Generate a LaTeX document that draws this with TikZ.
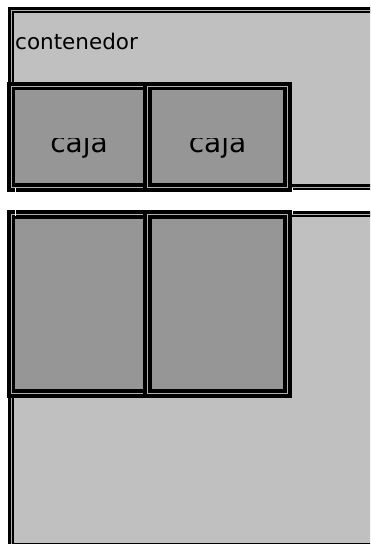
\documentclass[tikz,border=0pt]{standalone}
\usepackage{fontspec}
\setmainfont{DejaVu Sans}
\definecolor{contfill}{RGB}{192,192,192}
\definecolor{cajafill}{RGB}{150,150,150}
\definecolor{guide}{RGB}{175,175,175}

\begin{document}
\begin{tikzpicture}[x=1pt, y=-1pt,
    contline/.style={draw=black, line width=2.9pt, double=guide, double distance=0.7pt, fill=contfill},
    cajaline/.style={draw=black, line width=3.9pt, double=guide, double distance=0.7pt, fill=cajafill},
    marker/.style={white, line width=0.8pt},
    every node/.style={inner sep=0pt}]
  \useasboundingbox (0,0) rectangle (370,544);
  \clip (0,0) rectangle (370,544);
  % Upper panel: contenedor with two floated cajas
  \draw[contline] (11,10) rectangle (400,187);
  \draw[cajaline] (11,86) rectangle (147.5,187.5);
  \draw[cajaline] (147.5,86) rectangle (287.5,187.5);
  \node[anchor=base west, font=\fontsize{21.5}{21.5}\selectfont] (contlabel) at (15,49) {contenedor};
  \begin{scope}
    \clip (0,138.5) rectangle (370,200);
    \node[anchor=base, font=\fontsize{28}{28}\selectfont] (cajaA) at (79,152) {caja};
    \node[anchor=base, font=\fontsize{28}{28}\selectfont] (cajaB) at (217.5,152) {caja};
  \end{scope}
  % Lower panel: empty cajas, taller
  \draw[contline] (11,214) rectangle (400,546);
  \draw[cajaline] (11,214.5) rectangle (147.5,393.5);
  \draw[cajaline] (147.5,214.5) rectangle (287.5,393.5);
  % white edge marks between the panels
  \draw[marker] (15,187.5) -- (15,216);
  \draw[marker] (292,187.5) -- (292,214);
\end{tikzpicture}
\end{document}
